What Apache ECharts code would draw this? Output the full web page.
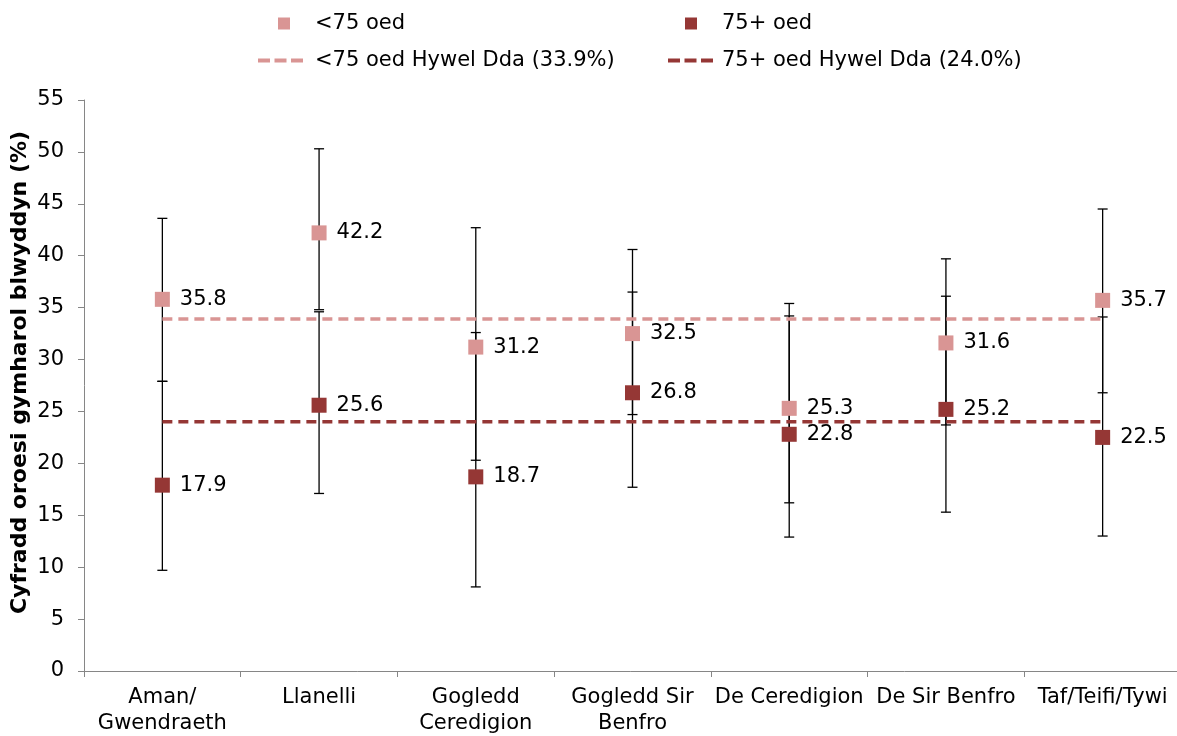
<!DOCTYPE html>
<html>
<head>
<meta charset="utf-8">
<script src="https://cdn.jsdelivr.net/npm/echarts@6/dist/echarts.min.js"></script>
<style>html,body{margin:0;padding:0;background:#fff}#c{width:1177px;height:736px}</style>
</head>
<body>
<div id="c"></div>
<script>
const categories = ['Aman/\nGwendraeth','Llanelli','Gogledd\nCeredigion','Gogledd Sir\nBenfro','De Ceredigion','De Sir Benfro','Taf/Teifi/Tywi'];
const under75 = [35.8, 42.2, 31.2, 32.5, 25.3, 31.6, 35.7];
const under75Low = [27.9, 34.8, 20.3, 24.7, 16.2, 23.7, 26.8];
const under75High = [43.6, 50.3, 42.7, 40.6, 35.4, 39.7, 44.5];
const over75 = [17.9, 25.6, 18.7, 26.8, 22.8, 25.2, 22.5];
const over75Low = [9.7, 17.1, 8.1, 17.7, 12.9, 15.3, 13.0];
const over75High = [27.9, 34.6, 32.6, 36.5, 34.2, 36.1, 34.1];
const hywelDdaUnder75 = 33.9;
const hywelDdaOver75 = 24.0;

const C_U75 = '#D99594';
const C_O75 = '#953735';
const FONT = 'DejaVu Sans';
const FS = 21;

function errData(lo, hi){ return categories.map((c,i)=>[i, lo[i], hi[i]]); }
function errRender(params, api){
  const x = api.value(0);
  const lo = api.coord([x, api.value(1)]);
  const hi = api.coord([x, api.value(2)]);
  const w = 5;
  const st = {stroke:'#000', lineWidth:1.3};
  return {type:'group', children:[
    {type:'line', shape:{x1:lo[0],y1:lo[1],x2:hi[0],y2:hi[1]}, style:st},
    {type:'line', shape:{x1:lo[0]-w,y1:lo[1],x2:lo[0]+w,y2:lo[1]}, style:st},
    {type:'line', shape:{x1:hi[0]-w,y1:hi[1],x2:hi[0]+w,y2:hi[1]}, style:st}
  ]};
}
const labelStyle = {show:true, position:'right', distance:10, color:'#000', fontFamily:FONT, fontSize:FS, formatter:p=>p.value.toFixed(1)};
const dashIcon = 'path://M0,0h12v4h-12z M16.5,0h12v4h-12z M33,0h12v4h-12z';

const chart = echarts.init(document.getElementById('c'));
const legText = {fontFamily:FONT, fontSize:FS, color:'#000'};
chart.setOption({
  animation:false,
  textStyle:{fontFamily:FONT},
  legend:[
    {data:['<75 oed'], left:273, top:8, icon:'rect', itemWidth:12, itemHeight:12, textStyle:Object.assign({padding:[0,0,0,20]},legText)},
    {data:['75+ oed'], left:680, top:8, icon:'rect', itemWidth:12, itemHeight:12, textStyle:Object.assign({padding:[0,0,0,20]},legText)},
    {data:['<75 oed Hywel Dda (33.9%)'], left:253, top:45, icon:dashIcon, itemWidth:45, itemHeight:4, textStyle:Object.assign({padding:[0,0,0,7]},legText)},
    {data:['75+ oed Hywel Dda (24.0%)'], left:663, top:45, icon:dashIcon, itemWidth:45, itemHeight:4, textStyle:Object.assign({padding:[0,0,0,4]},legText)}
  ],
  grid:{left:84, right:-4, top:100, bottom:65, outerBoundsMode:'none', containLabel:false},
  xAxis:{type:'category', data:categories, boundaryGap:true,
    axisLine:{lineStyle:{color:'#868686', width:1}},
    axisTick:{show:true, length:6, lineStyle:{color:'#868686'}},
    axisLabel:{color:'#000', fontFamily:FONT, fontSize:FS, lineHeight:26, margin:14, interval:0}},
  yAxis:{type:'value', min:0, max:55, interval:5,
    name:'Cyfradd oroesi gymharol blwyddyn (%)', nameLocation:'middle', nameGap:53, nameRotate:90, nameMoveOverlap:false,
    nameTextStyle:{color:'#000', fontFamily:FONT, fontSize:22, fontWeight:'bold', padding:[0,0,0,26]},
    splitLine:{show:false},
    axisLine:{show:true, lineStyle:{color:'#868686'}},
    axisTick:{show:true, length:6, lineStyle:{color:'#868686'}},
    axisLabel:{color:'#000', fontFamily:FONT, fontSize:FS, margin:20}},
  series:[
    {type:'custom', name:'err1', renderItem:errRender, data:errData(under75Low, under75High), z:1, silent:true},
    {type:'custom', name:'err2', renderItem:errRender, data:errData(over75Low, over75High), z:1, silent:true},
    {type:'line', name:'<75 oed Hywel Dda (33.9%)', data:categories.map(()=>hywelDdaUnder75), symbol:'none',
      lineStyle:{color:C_U75, width:3.5, type:[10,6]}, itemStyle:{color:C_U75}, z:2},
    {type:'line', name:'75+ oed Hywel Dda (24.0%)', data:categories.map(()=>hywelDdaOver75), symbol:'none',
      lineStyle:{color:C_O75, width:3.5, type:[10,6]}, itemStyle:{color:C_O75}, z:2},
    {type:'scatter', name:'<75 oed', data:under75, symbol:'rect', symbolSize:15, itemStyle:{color:C_U75, opacity:1}, label:labelStyle, z:3},
    {type:'scatter', name:'75+ oed', data:over75, symbol:'rect', symbolSize:15, itemStyle:{color:C_O75, opacity:1}, label:labelStyle, z:3}
  ]
});
</script>
</body>
</html>
